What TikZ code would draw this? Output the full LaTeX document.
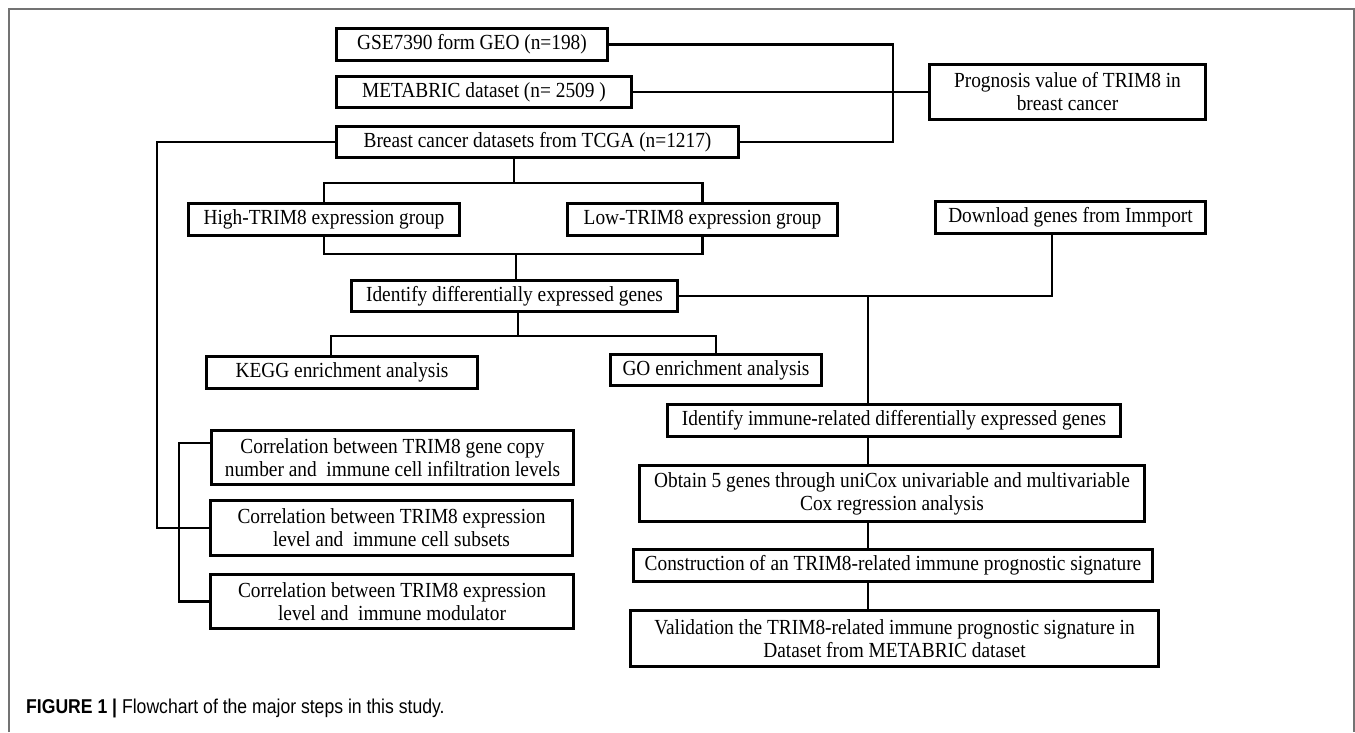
\documentclass[tikz,border=0pt]{standalone}
\usepackage{fontspec}
\setmainfont{Liberation Serif}[FakeStretch=0.9]
\newfontfamily\capfont{Liberation Sans}[FakeStretch=0.88]
\begin{document}
\begin{tikzpicture}[x=1pt,y=-1pt,
  box/.style={draw, line width=3pt, inner sep=0pt, align=center, font=\fontsize{21.5}{23}\selectfont},
  conn/.style={line width=2.7pt, line cap=rect}]
\useasboundingbox (0,0) rectangle (1355,732);
\fill[white] (0,0) rectangle (1355,732);
\draw[black!55, line width=1.5pt] (9,732) -- (9,9) -- (1354,9) -- (1354,732);

\node[box, minimum width=271pt, minimum height=32pt] (gse) at (472,44.5) {GSE7390 form GEO (n=198)};
\node[box, minimum width=295pt, minimum height=31pt] (meta) at (484,92) {METABRIC dataset (n= 2509 )};
\node[box, minimum width=402pt, minimum height=31pt] (tcga) at (537.5,142) {Breast cancer datasets from TCGA (n=1217)};
\node[box, minimum width=276pt, minimum height=55pt] (prog) at (1067.5,92) {Prognosis value of TRIM8 in\\breast cancer};
\node[box, minimum width=271pt, minimum height=32pt] (high) at (324,219.5) {High-TRIM8 expression group};
\node[box, minimum width=270pt, minimum height=32pt] (low) at (702.5,219.5) {Low-TRIM8 expression group};
\node[box, minimum width=270pt, minimum height=32pt] (down) at (1070.5,217.5) {Download genes from Immport};
\node[box, minimum width=326pt, minimum height=31pt] (deg) at (514.5,296) {Identify differentially expressed genes};
\node[box, minimum width=271pt, minimum height=32pt] (kegg) at (342,372.5) {KEGG enrichment analysis};
\node[box, minimum width=211pt, minimum height=31pt] (go) at (716,370) {GO enrichment analysis};
\node[box, minimum width=453pt, minimum height=32pt] (imm) at (894,420.5) {Identify immune-related differentially expressed genes};
\node[box, minimum width=505pt, minimum height=56pt] (obt) at (892,493.5) {Obtain 5 genes through uniCox univariable and multivariable\\Cox regression analysis};
\node[box, minimum width=519pt, minimum height=32pt] (con) at (893,565.5) {Construction of an TRIM8-related immune prognostic signature};
\node[box, minimum width=528pt, minimum height=56pt] (val) at (894.5,638.5) {Validation the TRIM8-related immune prognostic signature in\\Dataset from METABRIC dataset};
\node[box, minimum width=362pt, minimum height=54pt] (corr1) at (392.5,457.5) {Correlation between TRIM8 gene copy\\number and\ \ immune cell infiltration levels};
\node[box, minimum width=362pt, minimum height=55pt] (corr2) at (391.5,528) {Correlation between TRIM8 expression\\level and\ \ immune cell subsets};
\node[box, minimum width=363pt, minimum height=54pt] (corr3) at (392,601.5) {Correlation between TRIM8 expression\\level and\ \ immune modulator};

\node[anchor=west, inner sep=0pt, font=\capfont\fontsize{20}{22}\selectfont] (cap) at (26,708) {\textbf{FIGURE 1 |} Flowchart of the major steps in this study.};

% junction coordinates
\coordinate (rb) at (893,0);
\coordinate (t1) at (514,183);
\coordinate (m1) at (516,254);
\coordinate (d1) at (518,336);
\coordinate (kx) at (331,336);
\coordinate (dl) at (1052,0);
\coordinate (vx) at (868,0);
\coordinate (lx) at (157,0);
\coordinate (c1) at (179,443);

% right bracket to prognosis
\draw[conn] (gse.east) -- (gse.east -| rb) -- (tcga.east -| rb) -- (tcga.east);
\draw[conn] (meta.east) -- (prog.west);

% TCGA split
\draw[conn] (tcga.south -| t1) -- (t1);
\draw[conn] (high.north) |- (t1) -| (low.north);

% merge to DEG
\draw[conn] (high.south) |- (m1) -| (low.south);
\draw[conn] (m1) -- (m1 |- deg.north);

% DEG split
\draw[conn] (deg.south -| d1) -- (d1);
\draw[conn] (kx |- kegg.north) -- (kx) -- (d1) -| (go.north);

% right chain
\draw[conn] (deg.east) -- (deg.east -| dl) -- (dl |- down.south);
\draw[conn] (deg.east -| vx) -- (vx |- imm.north);
\draw[conn] (vx |- imm.south) -- (vx |- obt.north);
\draw[conn] (vx |- obt.south) -- (vx |- con.north);
\draw[conn] (vx |- con.south) -- (vx |- val.north);

% left brackets
\draw[conn] (tcga.west) -- (tcga.west -| lx) -- (lx |- corr2.west) -- (corr2.west);
\draw[conn] (c1 -| corr1.west) -- (c1) -- (c1 |- corr3.west) -- (corr3.west);
\end{tikzpicture}
\end{document}
